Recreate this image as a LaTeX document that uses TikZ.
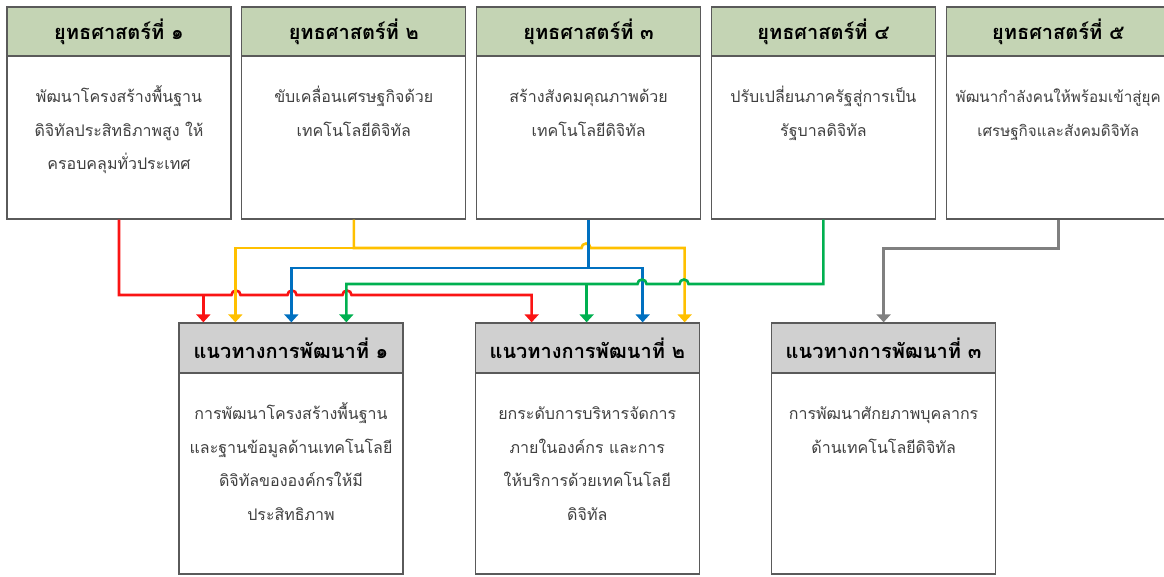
\documentclass[tikz,border=0pt]{standalone}
\usepackage{fontspec}
\setmainfont[Script=Thai]{Loma}
\usetikzlibrary{positioning, arrows.meta}
\definecolor{boxLine}{RGB}{90,90,90}
\definecolor{headGreen}{RGB}{196,212,180}
\definecolor{headGray}{RGB}{208,208,208}
\definecolor{bodyGray}{RGB}{64,64,64}
\definecolor{lineRed}{RGB}{250,20,20}
\definecolor{lineYellow}{RGB}{255,192,0}
\definecolor{lineBlue}{RGB}{0,112,192}
\definecolor{lineGreen}{RGB}{0,176,80}
\definecolor{lineGray}{RGB}{128,128,128}
\tikzstyle{outerBox} = [shape=rectangle, draw=boxLine, line width=1.3pt,
	minimum width=224pt, inner sep=0pt, fill=white]
\tikzstyle{StratBox} = [outerBox, minimum height=212pt]
\tikzstyle{PlanBox} = [outerBox, minimum height=251pt]
\tikzstyle{headBox} = [outerBox, minimum height=49pt, text=black,
	font=\bfseries\fontsize{20}{24}\selectfont]
\tikzstyle{StratHead} = [headBox, fill=headGreen]
\tikzstyle{PlanHead} = [headBox, fill=headGray, minimum height=50pt]
\tikzstyle{bodyText} = [align=center, inner sep=0pt, text=bodyGray,
	font=\fontsize{16}{33.5}\selectfont]
\tikzstyle{linkLine} = [line width=2.6pt]
\tikzstyle{linkArrow} = [linkLine, -{Triangle[width=14pt,length=8pt]}]
\begin{document}
\begin{tikzpicture}[x=1pt, y=-1pt]
  \useasboundingbox (0,0) rectangle (1164,577);
  % strategies
  \node (S1) [StratBox] at (119,113) {};
  \node (S2) [StratBox, right=9.5pt of S1] {};
  \node (S3) [StratBox, right=9.5pt of S2] {};
  \node (S4) [StratBox, right=9.5pt of S3] {};
  \node (S5) [StratBox, right=9.5pt of S4] {};
  \node (S1h) [StratHead, below=0pt of S1.north] {ยุทธศาสตร์ที่ ๑};
  \node (S2h) [StratHead, below=0pt of S2.north] {ยุทธศาสตร์ที่ ๒};
  \node (S3h) [StratHead, below=0pt of S3.north] {ยุทธศาสตร์ที่ ๓};
  \node (S4h) [StratHead, below=0pt of S4.north] {ยุทธศาสตร์ที่ ๔};
  \node (S5h) [StratHead, below=0pt of S5.north] {ยุทธศาสตร์ที่ ๕};
  \node (S1t) [bodyText, below=22.5pt of S1h] {\strut พัฒนาโครงสร้างพื้นฐาน\\ดิจิทัลประสิทธิภาพสูง ให้\\ครอบคลุมทั่วประเทศ};
  \node (S2t) [bodyText, below=22.5pt of S2h] {\strut ขับเคลื่อนเศรษฐกิจด้วย\\เทคโนโลยีดิจิทัล};
  \node (S3t) [bodyText, below=22.5pt of S3h] {\strut สร้างสังคมคุณภาพด้วย\\เทคโนโลยีดิจิทัล};
  \node (S4t) [bodyText, below=22.5pt of S4h] {\strut ปรับเปลี่ยนภาครัฐสู่การเป็น\\รัฐบาลดิจิทัล};
  \node (S5t) [bodyText, below=22.5pt of S5h, font=\fontsize{15.2}{33.5}\selectfont] {\strut พัฒนากำลังคนให้พร้อมเข้าสู่ยุค\\เศรษฐกิจและสังคมดิจิทัล};

  % development plans
  \node (D1) [PlanBox] at (291,448.5) {};
  \node (D2) [PlanBox, right=71pt of D1] {};
  \node (D3) [PlanBox, right=71pt of D2] {};
  \node (D1h) [PlanHead, below=0pt of D1.north] {แนวทางการพัฒนาที่ ๑};
  \node (D2h) [PlanHead, below=0pt of D2.north] {แนวทางการพัฒนาที่ ๒};
  \node (D3h) [PlanHead, below=0pt of D3.north] {แนวทางการพัฒนาที่ ๓};
  \node (D1t) [bodyText, below=22.5pt of D1h] {\strut การพัฒนาโครงสร้างพื้นฐาน\\และฐานข้อมูลด้านเทคโนโลยี\\ดิจิทัลขององค์กรให้มี\\ประสิทธิภาพ};
  \node (D2t) [bodyText, below=22.5pt of D2h] {\strut ยกระดับการบริหารจัดการ\\ภายในองค์กร และการ\\ให้บริการด้วยเทคโนโลยี\\ดิจิทัล};
  \node (D3t) [bodyText, below=22.5pt of D3h] {\strut การพัฒนาศักยภาพบุคลากร\\ด้านเทคโนโลยีดิจิทัล};

  % entry points and bus levels
  \coordinate (D1a) at ([xshift=25pt]D1.north west);
  \coordinate (D1b) at ([xshift=57pt]D1.north west);
  \coordinate (D1c) at ([xshift=113pt]D1.north west);
  \coordinate (D1d) at ([xshift=168pt]D1.north west);
  \coordinate (D2a) at ([xshift=57pt]D2.north west);
  \coordinate (D2b) at ([xshift=112pt]D2.north west);
  \coordinate (D2c) at ([xshift=168pt]D2.north west);
  \coordinate (D2d) at ([xshift=210pt]D2.north west);
  \coordinate (yBus) at (0,248);
  \coordinate (bBus) at (0,268);
  \coordinate (gBus) at (0,284);
  \coordinate (rBus) at (0,295);

  \draw [linkArrow, draw=lineRed] (S1.south) |- (231.5,295)
    arc[start angle=180, end angle=360, radius=4.5] -- (287.5,295)
    arc[start angle=180, end angle=360, radius=4.5] -- (342.5,295)
    arc[start angle=180, end angle=360, radius=4.5] -| (D2a);
  \draw [linkArrow, draw=lineRed] (D1a |- rBus) -- (D1a);
  \draw [linkArrow, draw=lineYellow] (S2.south) |- (581.5,248)
    arc[start angle=180, end angle=360, radius=4.5] -| (D2d);
  \draw [linkArrow, draw=lineYellow] (S2.south |- yBus) -| (D1b);
  \draw [linkArrow, draw=lineBlue] (S3.south) |- (D2c |- bBus) -- (D2c);
  \draw [linkArrow, draw=lineBlue] (S3.south |- bBus) -| (D1c);
  \draw [linkArrow, draw=lineGreen] (S4.south) |- (688.5,284)
    arc[start angle=360, end angle=180, radius=4.5] -- (646.5,284)
    arc[start angle=360, end angle=180, radius=4.5] -| (D1d);
  \draw [linkArrow, draw=lineGreen] (D2b |- gBus) -- (D2b);
  \draw [linkArrow, draw=lineGray] (S5.south) -- ++(0,29) -| (D3.north);

\end{tikzpicture}
\end{document}
